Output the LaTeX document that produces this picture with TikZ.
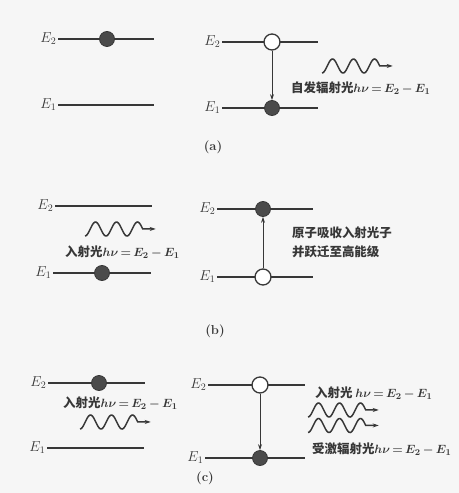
\documentclass[tikz,border=0pt]{standalone}
\usepackage{fontspec}
\newfontfamily\cjk{Noto Sans CJK SC}
\usetikzlibrary{arrows.meta}
\definecolor{ink}{RGB}{55,55,55}
\definecolor{paper}{RGB}{246,246,246}
\tikzset{
  level/.style={ink, line width=1.8pt},
  dot/.style={circle, fill=ink!90, draw=ink, line width=0.8pt, minimum size=15bp, inner sep=0pt},
  hole/.style={circle, fill=white, draw=ink, line width=1.3pt, minimum size=16bp, inner sep=0pt},
  jump/.style={ink, line width=0.7pt, -{Stealth[length=6bp,width=4bp]}},
  photon/.style={ink, line width=1.5pt, -{Stealth[length=6bp,width=4bp]}},
  elabel/.style={anchor=east, inner sep=1.5pt, font=\fontsize{14}{16}\selectfont, text=ink},
  lbl/.style={anchor=west, inner sep=0pt, font=\cjk\bfseries\boldmath\fontsize{12.5}{19}\selectfont, text=ink, align=left},
  panel/.style={font=\bfseries\fontsize{13}{15}\selectfont, text=ink}
}
\newcommand{\photon}[2]{%
  \draw[photon, shift={(#1,#2)}]
    plot[domain=0:2.75, samples=90, smooth] ({\x*\wl},{\amp*cos(360*\x)})
    -- ++(\tl,0);}
\newcommand{\hnu}{$h\nu\,{=}\,E_2\,{-}\,E_1$}

\begin{document}
\begin{tikzpicture}[x=1bp, y=-1bp]
\def\wl{21}
\def\amp{7}
\def\tl{13}

\fill[paper] (0,0) rectangle (459,493);

\foreach \xa/\xb/\yy/\k [count=\i] in {
    58/154/39/2, 58/154/105/1, 222/318/42/2, 222/318/108/1,
    55/152/206/2, 53/151/273/1, 217/313/209/2, 217/313/277/1,
    48/145/383/2, 47/144/448/1, 208/305/385/2, 205/305/458/1}{
    \draw[level] (\xa,\yy) coordinate (lv\i) -- (\xb,\yy);
    \node[elabel] (e\i) at (lv\i) {$E_\k$};
}

% (a)
\node[dot]  (a0) at (107,39) {};
\node[hole] (a2) at (272,42) {};
\node[dot]  (a1) at (272,108) {};
\draw[jump] (a2) -- (a1);
\photon{322}{66}
\node[lbl] (aspon) at (291,88) {自发辐射光\hnu};
\node[panel] (alab) at (213,147) {(a)};

% (b)
\node[dot]  (b0) at (102,273) {};
\node[dot]  (b2) at (263,209) {};
\node[hole] (b1) at (263,277) {};
\draw[jump] (b1) -- (b2);
\photon{85}{229}
\node[lbl] (bin) at (65,252) {入射光\hnu};
\node[lbl] (babs) at (292,242.5) {原子吸收入射光子\\并跃迁至高能级};
\node[panel] (blab) at (215,331) {(b)};

% (c)
\node[dot]  (c0) at (99,383) {};
\node[hole] (c2) at (260,385) {};
\node[dot]  (c1) at (260,458) {};
\draw[jump] (c2) -- (c1);
\photon{80}{422}
\photon{308}{410}
\photon{308}{425.5}
\node[lbl] (cin) at (63,403) {入射光\hnu};
\node[lbl] (cin2) at (315,393) {入射光 \hnu};
\node[lbl] (cstim) at (312,449) {受激辐射光\hnu};
\node[panel] (clab) at (205,478) {(c)};
\end{tikzpicture}
\end{document}
